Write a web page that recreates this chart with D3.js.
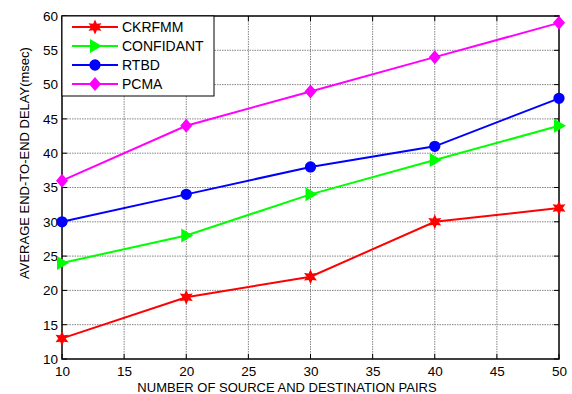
<!DOCTYPE html>
<html>
<head>
<meta charset="utf-8">
<script src="https://cdn.jsdelivr.net/npm/d3@7"></script>
<style>
  html, body { margin: 0; padding: 0; background: #fff; }
  svg text { font-family: "Liberation Sans", Arial, sans-serif; fill: #000; }
</style>
</head>
<body>
<svg id="chart" width="572" height="394"></svg>
<script>
// Data
const pairs = [10, 20, 30, 40, 50];
const ckrfmm = [13, 19, 22, 30, 32];
const confidant = [24, 28, 34, 39, 44];
const rtbd = [30, 34, 38, 41, 48];
const pcma = [36, 44, 49, 54, 59];
const xTicks = [10, 15, 20, 25, 30, 35, 40, 45, 50];
const yTicks = [10, 15, 20, 25, 30, 35, 40, 45, 50, 55, 60];

const seriesList = [
  { name: "CKRFMM", values: ckrfmm, color: "#ff0000", marker: "star" },
  { name: "CONFIDANT", values: confidant, color: "#00ff00", marker: "triangle" },
  { name: "RTBD", values: rtbd, color: "#0000ff", marker: "circle" },
  { name: "PCMA", values: pcma, color: "#ff00ff", marker: "diamond" }
];

const svg = d3.select("#chart");
const pLeft = 62, pRight = 559, pTop = 16, pBottom = 359;

const x = d3.scaleLinear().domain([10, 50]).range([pLeft, pRight]);
const y = d3.scaleLinear().domain([10, 60]).range([pBottom, pTop]);

// Grid
const grid = svg.append("g");
grid.selectAll(".vx").data(xTicks.slice(1, -1)).enter().append("line")
  .attr("x1", d => x(d)).attr("x2", d => x(d))
  .attr("y1", pTop).attr("y2", pBottom)
  .attr("stroke", "#777").attr("stroke-width", 0.9).attr("stroke-dasharray", "1.5,1");
grid.selectAll(".hy").data(yTicks.slice(1, -1)).enter().append("line")
  .attr("x1", pLeft).attr("x2", pRight)
  .attr("y1", d => y(d)).attr("y2", d => y(d))
  .attr("stroke", "#777").attr("stroke-width", 0.9).attr("stroke-dasharray", "1.5,1");

// Inner ticks on all four sides
const tk = svg.append("g").attr("stroke", "#000").attr("stroke-width", 1);
xTicks.forEach(t => {
  tk.append("line").attr("x1", x(t)).attr("x2", x(t)).attr("y1", pBottom).attr("y2", pBottom - 5);
  tk.append("line").attr("x1", x(t)).attr("x2", x(t)).attr("y1", pTop).attr("y2", pTop + 5);
});
yTicks.forEach(t => {
  tk.append("line").attr("x1", pLeft).attr("x2", pLeft + 5).attr("y1", y(t)).attr("y2", y(t));
  tk.append("line").attr("x1", pRight).attr("x2", pRight - 5).attr("y1", y(t)).attr("y2", y(t));
});

// Axes via d3 (labels only; ticks drawn inward above)
const xAxis = svg.append("g").attr("transform", `translate(0,${pBottom})`)
  .call(d3.axisBottom(x).tickValues(xTicks).tickSize(0).tickPadding(7));
const yAxis = svg.append("g").attr("transform", `translate(${pLeft},0)`)
  .call(d3.axisLeft(y).tickValues(yTicks).tickSize(0).tickPadding(4));
[xAxis, yAxis].forEach(a => {
  a.select(".domain").remove();
  a.selectAll("text").style("font-size", "13.5px").style("font-family", "Liberation Sans, Arial, sans-serif").attr("fill", "#000");
});

// Frame
svg.append("rect").attr("x", pLeft).attr("y", pTop)
  .attr("width", pRight - pLeft).attr("height", pBottom - pTop)
  .attr("fill", "none").attr("stroke", "#000").attr("stroke-width", 1.5);

// Marker shapes
function starPath(r) {
  const pts = [];
  for (let i = 0; i < 12; i++) {
    const a = Math.PI / 6 * i - Math.PI / 2;
    const rr = i % 2 === 0 ? r : r * 0.5;
    pts.push([rr * Math.cos(a), rr * Math.sin(a)]);
  }
  return "M" + pts.map(p => p.join(",")).join("L") + "Z";
}
function markerPath(type) {
  switch (type) {
    case "star": return starPath(7.5);
    case "triangle": return "M7,0L-5,-7L-5,7Z";
    case "circle": return d3.symbol(d3.symbolCircle, 100)();
    case "diamond": return "M0,-7L6,0L0,7L-6,0Z";
  }
}

const line = d3.line().x((d, i) => x(pairs[i])).y(d => y(d));

seriesList.forEach(s => {
  const g = svg.append("g");
  g.append("path").datum(s.values).attr("d", line)
    .attr("fill", "none").attr("stroke", s.color).attr("stroke-width", 2);
  g.selectAll("path.m").data(s.values).enter().append("path")
    .attr("class", "m")
    .attr("transform", (d, i) => `translate(${x(pairs[i])},${y(d)})`)
    .attr("d", markerPath(s.marker))
    .attr("fill", s.color);
});

// Legend
const lg = svg.append("g");
lg.append("rect").attr("x", pLeft).attr("y", pTop).attr("width", 152).attr("height", 80)
  .attr("fill", "#fff").attr("stroke", "#000").attr("stroke-width", 1);
const rowY = [27, 46, 65, 84];
seriesList.forEach((s, i) => {
  lg.append("line").attr("x1", 72).attr("x2", 118).attr("y1", rowY[i]).attr("y2", rowY[i])
    .attr("stroke", s.color).attr("stroke-width", 2);
  lg.append("path").attr("transform", `translate(95,${rowY[i]})`)
    .attr("d", markerPath(s.marker)).attr("fill", s.color);
  lg.append("text").attr("x", 122).attr("y", rowY[i] + 5)
    .style("font-size", "14px").text(s.name);
});

// Axis titles
svg.append("text").attr("x", 287).attr("y", 392)
  .attr("text-anchor", "middle").style("font-size", "13px")
  .text("NUMBER OF SOURCE AND DESTINATION PAIRS");
svg.append("text")
  .attr("transform", "translate(29,163) rotate(-90)")
  .attr("text-anchor", "middle").style("font-size", "13px")
  .text("AVERAGE END-TO-END DELAY(msec)");
</script>
</body>
</html>
